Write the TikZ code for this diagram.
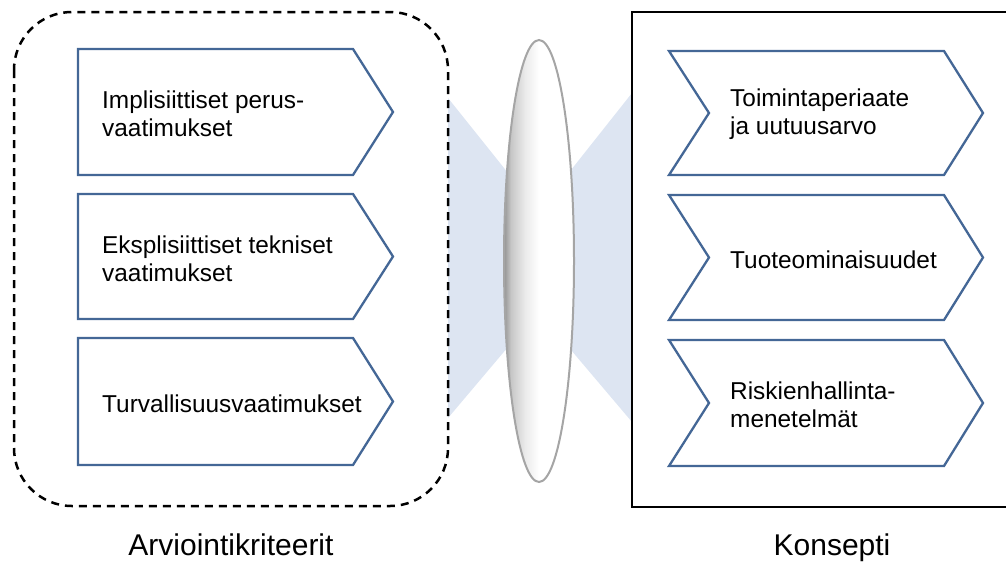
\documentclass[tikz,border=0pt]{standalone}
\usepackage{fontspec}
\setmainfont{Liberation Sans}
\usetikzlibrary{shapes.geometric}
\definecolor{chevblue}{RGB}{68,103,150}
\definecolor{beam}{RGB}{221,229,242}
\definecolor{lensedge}{RGB}{165,165,165}
\pgfdeclarehorizontalshading{lensshade}{100bp}{color(0bp)=(black!42); color(25bp)=(black!42); color(30bp)=(black!22); color(40bp)=(black!8); color(50bp)=(white); color(100bp)=(white)}
\tikzset{
  chev/.style={draw=chevblue, line width=2.3pt, fill=white, line join=miter},
  itemtext/.style={anchor=west, align=left, inner sep=0pt, font=\fontsize{24.4}{27.5}\selectfont},
  grouplabel/.style={inner sep=0pt, font=\fontsize{30}{34}\selectfont},
}
\begin{document}
\begin{tikzpicture}[x=1pt,y=-1pt]
\useasboundingbox (0,0) rectangle (1006,562);
% light beams on both sides of the lens
\fill[beam] (448,98) -- (508,173) -- (508,347) -- (448,418) -- cycle;
\fill[beam] (632,93) -- (571,170) -- (571,350) -- (632,422) -- cycle;
% criteria group (dashed rounded frame)
\draw[line width=2.5pt, dash pattern=on 8pt off 6pt, rounded corners=58pt] (14,12) rectangle (448,506);
% concept group (solid frame, running past the right edge)
\begin{scope}
\clip (0,0) rectangle (1006,562);
\draw[line width=2.6pt] (632,12) rectangle (1012,507);
\end{scope}
% lens
\node[ellipse, minimum width=70pt, minimum height=442pt, inner sep=0pt, draw=lensedge, line width=2pt, shading=lensshade] (lens) at (539,261) {};
% left chevrons
\foreach \t/\b in {49/175, 194/319, 338/465}{
  \draw[chev] (78,\t) -- (353,\t) -- (393,{(\t+\b)/2}) -- (353,\b) -- (78,\b) -- cycle;
}
\node[itemtext] (t1) at (102,114) {Implisiittiset perus-\\vaatimukset};
\node[itemtext] (t2) at (102,259) {Eksplisiittiset tekniset\\vaatimukset};
\node[itemtext] (t3) at (102,404) {Turvallisuusvaatimukset};
% right chevrons
\foreach \t/\b in {51/175, 195/320, 340/466}{
  \draw[chev] (669,\t) -- (944,\t) -- (983,{(\t+\b)/2}) -- (944,\b) -- (669,\b) -- (709,{(\t+\b)/2}) -- cycle;
}
\node[itemtext] (k1) at (730,114) {Toimintaperiaate\\ja uutuusarvo};
\node[itemtext] (k2) at (730,260) {Tuoteominaisuudet};
\node[itemtext] (k3) at (730,405) {Riskienhallinta-\\menetelmät};
% group labels
\node[grouplabel, anchor=base] (lblA) at (231,555) {Arviointikriteerit};
\node[grouplabel, anchor=base] (lblK) at (832,555) {Konsepti};
\end{tikzpicture}
\end{document}
